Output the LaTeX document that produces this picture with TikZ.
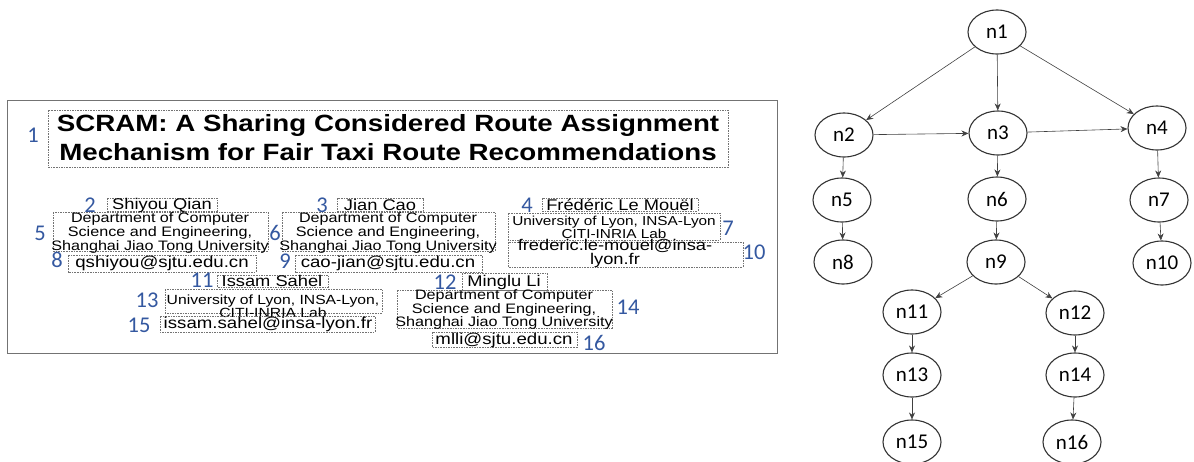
\documentclass[tikz,border=0pt]{standalone}
\usepackage{fontspec}
\setmainfont{Carlito}
\newfontfamily\paperfont[FakeStretch=1.18]{Liberation Sans}
\usepackage{tikz}
\usetikzlibrary{arrows.meta, shapes.geometric}
\definecolor{numblue}{RGB}{52,88,160}
\tikzset{
  vtx/.style ={ellipse, draw=black!80, line width=1.1pt, minimum width=58pt, minimum height=44pt, inner sep=0pt, font=\fontsize{21}{24}\selectfont},
  fl/.style  ={-{Stealth[length=7pt, width=6pt]}, line width=0.6pt, draw=black!75},
  dbox/.style={draw=black!55, dash pattern=on 1.6pt off 1pt, line width=0.8pt},
  frm/.style ={draw=black!55, line width=1pt},
  num/.style ={text=numblue, font=\fontsize{22.5}{24}\selectfont, inner sep=0pt},
  ttl/.style ={font=\paperfont\bfseries\fontsize{23.5}{29}\selectfont, align=center, inner sep=0pt},
  nm/.style  ={font=\paperfont\fontsize{15.5}{16}\selectfont, inner sep=0pt},
  aff/.style ={font=\paperfont\fontsize{13.7}{12.5}\selectfont, align=center, inner sep=0pt},
  mail/.style={font=\paperfont\fontsize{15.8}{13}\selectfont, align=center, inner sep=0pt},
}

\begin{document}
\begin{tikzpicture}[x=1pt, y=-1pt]
  \useasboundingbox (0,0) rectangle (1194,461);
  % paper header
  \draw[frm] (7,100) rectangle (777,353);
  \draw[dbox] (48,110) rectangle (728,167);
  \node[ttl] (title) at (388,137.5) {SCRAM: A Sharing Considered Route Assignment\\Mechanism for Fair Taxi Route Recommendations};
  \node[num] (l1) at (33,135) {1};
  % authors
  \draw[dbox] (107,198) rectangle (217,211);
  \node[nm] (au2) at (162,205) {Shiyou Qian};
  \draw[dbox] (337,198) rectangle (423,211);
  \node[nm] (au3) at (380,205) {Jian Cao};
  \draw[dbox] (542,198) rectangle (698,211);
  \node[nm] (au4) at (620,205) {Frédéric Le Mouël};
  \draw[dbox] (53,212) rectangle (268,251);
  \node[aff] (af5) at (160,233) {Department of Computer\\Science and Engineering,\\Shanghai Jiao Tong University};
  \draw[dbox] (282,212) rectangle (495,251);
  \node[aff] (af6) at (388,233) {Department of Computer\\Science and Engineering,\\Shanghai Jiao Tong University};
  \draw[dbox] (508,213) rectangle (720,240);
  \node[aff, font=\paperfont\fontsize{13}{12}\selectfont] (af7) at (614,227) {University of Lyon, INSA-Lyon\\CITI-INRIA Lab};
  \draw[dbox] (68,255) rectangle (256,272);
  \node[mail] (em8) at (162,263) {qshiyou@sjtu.edu.cn};
  \draw[dbox] (295,255) rectangle (482,272);
  \node[mail] (em9) at (388,263) {cao-jian@sjtu.edu.cn};
  \draw[dbox] (508,242) rectangle (743,267);
  \node[mail, font=\paperfont\fontsize{15.5}{13}\selectfont] (em10) at (615,253.5) {frederic.le-mouel@insa-\\lyon.fr};
  \draw[dbox] (217,275) rectangle (328,287);
  \node[nm] (au11) at (272,281) {Issam Sahel};
  \draw[dbox] (462,273) rectangle (547,290);
  \node[nm] (au12) at (504,282) {Minglu Li};
  \draw[dbox] (165,289) rectangle (382,313);
  \node[aff, font=\paperfont\fontsize{13.3}{12}\selectfont] (af13) at (273,306) {University of Lyon, INSA-Lyon,\\CITI-INRIA Lab};
  \draw[dbox] (397,290) rectangle (612,328);
  \node[aff] (af14) at (504,309.5) {Department of Computer\\Science and Engineering,\\Shanghai Jiao Tong University};
  \draw[dbox] (160,316) rectangle (375,332);
  \node[mail] (em15) at (268,324) {issam.sahel@insa-lyon.fr};
  \draw[dbox] (432,332) rectangle (577,347);
  \node[mail] (em16) at (504,340) {mlli@sjtu.edu.cn};
  % numbering
  \node[num] (l2) at (90,205) {2};
  \node[num] (l3) at (322,205) {3};
  \node[num] (l4) at (527,205) {4};
  \node[num] (l5) at (40,233) {5};
  \node[num] (l6) at (275,233) {6};
  \node[num] (l7) at (728,228) {7};
  \node[num] (l8) at (57,260) {8};
  \node[num] (l9) at (285,261) {9};
  \node[num] (l10) at (754,252) {10};
  \node[num] (l11) at (202,280) {11};
  \node[num] (l12) at (445,282) {12};
  \node[num] (l13) at (147,300) {13};
  \node[num] (l14) at (628,307) {14};
  \node[num] (l15) at (139,325) {15};
  \node[num] (l16) at (594,343) {16};
  % tree
  \node[vtx] (n1) at (997,32) {n1};
  \node[vtx] (n2) at (844,135) {n2};
  \node[vtx] (n3) at (998,133) {n3};
  \node[vtx] (n4) at (1157,128) {n4};
  \node[vtx] (n5) at (842,200) {n5};
  \node[vtx] (n6) at (997,199) {n6};
  \node[vtx] (n7) at (1159,200) {n7};
  \node[vtx] (n8) at (843,262) {n8};
  \node[vtx] (n9) at (996,262) {n9};
  \node[vtx] (n10) at (1162,263) {n10};
  \node[vtx] (n11) at (912,312) {n11};
  \node[vtx] (n12) at (1075,313) {n12};
  \node[vtx] (n13) at (912,375) {n13};
  \node[vtx] (n14) at (1075,375) {n14};
  \node[vtx] (n15) at (912,442) {n15};
  \node[vtx] (n16) at (1072,442) {n16};
  \draw[fl] (n1)--(n2);
  \draw[fl] (n1)--(n3);
  \draw[fl] (n1)--(n4);
  \draw[fl] (n2)--(n3);
  \draw[fl] (n3)--(n4);
  \draw[fl] (n2)--(n5);
  \draw[fl] (n5)--(n8);
  \draw[fl] (n3)--(n6);
  \draw[fl] (n6)--(n9);
  \draw[fl] (n4)--(n7);
  \draw[fl] (n7)--(n10);
  \draw[fl] (n9)--(n11);
  \draw[fl] (n9)--(n12);
  \draw[fl] (n11)--(n13);
  \draw[fl] (n13)--(n15);
  \draw[fl] (n12)--(n14);
  \draw[fl] (n14)--(n16);
\end{tikzpicture}
\end{document}
